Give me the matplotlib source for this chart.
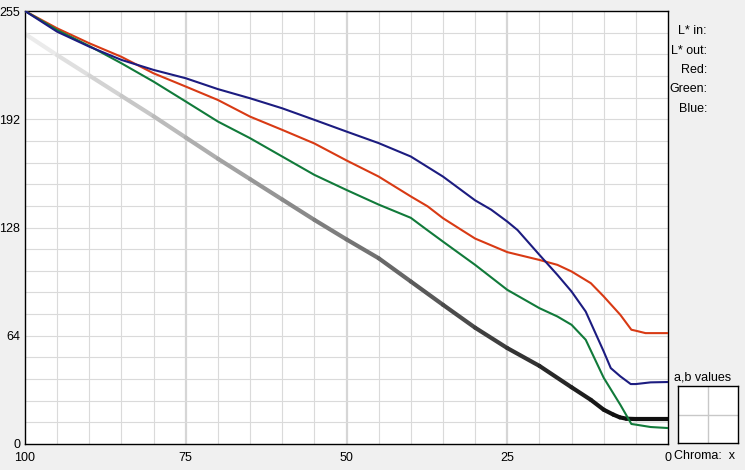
import numpy as np
import matplotlib
matplotlib.use("Agg")
import matplotlib.pyplot as plt
from matplotlib.collections import LineCollection

# --- data ---
gray_x = [100, 95, 90, 85, 80, 75, 70, 65, 60, 55, 50, 45, 40, 35, 30, 25, 20, 15, 12, 10, 8.5, 7.5, 6.5, 5, 0]
gray_y = [241.5, 229, 217, 205, 193, 180.5, 168, 156, 144, 132, 120.5, 109.4, 95.7, 82, 68.5, 56.5,
          46, 33.4, 26, 20.2, 17.3, 15.7, 14.9, 14.7, 14.7]

red_x = [100, 95, 90, 85, 80, 75, 70, 65, 60, 55, 50, 45, 40, 37.4, 35, 32.3, 30, 25, 20, 17.2,
         15, 12, 10, 7.4, 5.7, 5, 3.5, 0]
red_y = [255, 244.8, 236, 228, 218.3, 210.5, 202.6, 192.8, 185, 177, 167, 157.5, 145.8, 140, 133,
         126.5, 121, 113, 108.4, 105.5, 101.6, 94.7, 86.9, 76, 67.3, 66.7, 65.3, 65.3]

green_x = [100, 95, 90, 85, 80, 75, 70, 65, 60, 55, 50, 45, 40, 37.7, 35, 30, 25, 20, 17.2, 15,
           12.8, 10, 7.4, 5.7, 5, 2.7, 0]
green_y = [255, 243.8, 234.4, 224.2, 213.4, 201.7, 189.9, 180.1, 169.3, 158.5, 149.6, 141, 133.2,
           126.7, 119.2, 105.5, 90.8, 80, 75.1, 70.2, 61.4, 39, 23, 11.8, 11.4, 10, 9.4]

blue_x = [100, 95, 90, 85, 80, 75, 70, 65, 60, 55, 50, 45, 40, 35, 30, 27.5, 25, 23.4, 20, 17.2, 15,
          12.8, 10, 8.9, 7.4, 5.8, 5, 2.7, 0]
blue_y = [255, 242.8, 234, 226.2, 220.3, 215.4, 209, 203.6, 197.7, 190.9, 184, 177.2, 169.3,
          157.5, 143.5, 138, 131, 126, 111.4, 99.6, 89.8, 78, 54.5, 44.7, 39.8, 35.3, 35.3, 36.3, 36.5]

x_ticks = [100, 75, 50, 25, 0]
y_ticks = [0, 63.75, 127.5, 191.25, 255]
y_tick_labels = ["0", "64", "128", "192", "255"]
info_labels = ["L* in:", "L* out:", "Red:", "Green:", "Blue:"]

W, H = 745, 470
BG = "#f0f0f0"
FONT = "Liberation Sans"
FS = 9

fig = plt.figure(figsize=(W / 100, H / 100), dpi=100, facecolor=BG)

# main plot area (pixel box 25..668 x 11..444)
ax = fig.add_axes([25 / W, (H - 444) / H, 643 / W, 433 / H])
ax.set_facecolor("white")
ax.set_xlim(100, 0)
ax.set_ylim(0, 255)

# grid
for gx in range(5, 100, 5):
    heavy = gx % 25 == 0
    ax.axvline(gx, color="#d6d6d6" if heavy else "#dadada", lw=1.6 if heavy else 0.8, zorder=1)
for k in range(1, 20):
    ax.axhline(k * 12.75, color="#dadada", lw=0.8, zorder=1)

# L* curve, shaded by its own output value
pts = np.column_stack([gray_x, gray_y])
segs = np.stack([pts[:-1], pts[1:]], axis=1)
shade = [(a + b) / 2 / 255 for a, b in zip(gray_y[:-1], gray_y[1:])]
lc = LineCollection(segs, colors=[(s, s, s) for s in shade], linewidths=3.0,
                    capstyle="round", joinstyle="round", zorder=2)
ax.add_collection(lc)

ax.plot(red_x, red_y, color="#d83a14", lw=1.5, zorder=3)
ax.plot(green_x, green_y, color="#117a3a", lw=1.5, zorder=4)
ax.plot(blue_x, blue_y, color="#1c1c80", lw=1.5, zorder=5)

for s in ax.spines.values():
    s.set_color("black")
    s.set_linewidth(1.0)
ax.set_xticks(x_ticks)
ax.set_xticklabels([str(v) for v in x_ticks], fontfamily=FONT, fontsize=FS)
ax.set_yticks(y_ticks)
ax.set_yticklabels(y_tick_labels, fontfamily=FONT, fontsize=FS)
ax.tick_params(length=0)
ax.tick_params(axis="x", pad=6)
ax.tick_params(axis="y", pad=3.5)

# right info panel
for i, lab in enumerate(info_labels):
    fig.text(707 / W, 1 - (31 + 19.5 * i) / H, lab, ha="right", va="center",
             fontfamily=FONT, fontsize=FS)

# a,b values box
bx = fig.add_axes([678 / W, (H - 443) / H, 60 / W, 57 / H])
bx.set_facecolor("white")
bx.set_xlim(0, 1)
bx.set_ylim(0, 1)
bx.axvline(0.5, color="#c8c8c8", lw=1)
bx.axhline(0.5, color="#c8c8c8", lw=1)
bx.set_xticks([])
bx.set_yticks([])
for s in bx.spines.values():
    s.set_color("black")
    s.set_linewidth(1.0)
fig.text(703 / W, 1 - 378 / H, "a,b values", ha="center", va="center",
         fontfamily=FONT, fontsize=FS)
fig.text(705 / W, 1 - 456 / H, "Chroma:  x", ha="center", va="center",
         fontfamily=FONT, fontsize=FS)

fig.savefig("out.png", dpi=100, facecolor=BG)
